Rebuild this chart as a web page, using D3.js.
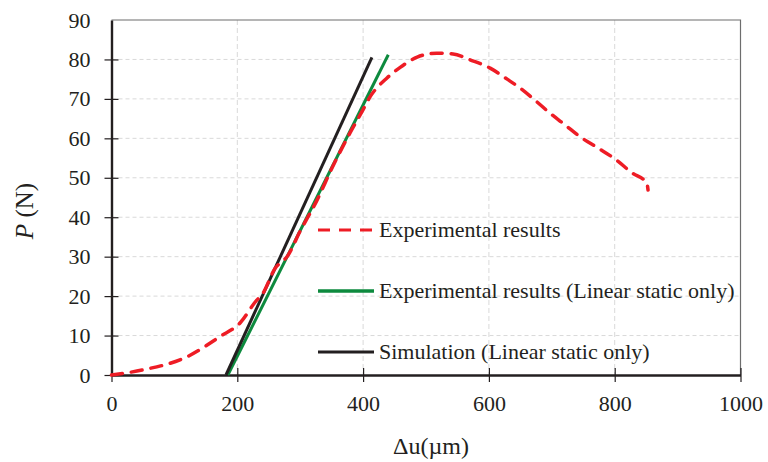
<!DOCTYPE html>
<html><head><meta charset="utf-8">
<script src="https://cdn.jsdelivr.net/npm/d3@7"></script>
<style>body{margin:0;background:#fff}svg{display:block}svg text{font-family:'Liberation Serif';fill:#231f20}</style>
</head><body><svg id="c" width="768" height="462"></svg>
<script>
const xTicks=[0,200,400,600,800,1000];
const yTicks=[0,10,20,30,40,50,60,70,80,90];
const expX=[0,50,120,172,205,231,239,260,280,300,327,350,379,398,411,438,459,486,517,543,570,602,629,650,673,697,721,745,774,801,828,851,853];
const expY=[0,1.3,4.6,9.7,13.3,19,20.3,27,30.2,36.5,44.4,52.3,61.3,66.7,70.5,75.3,78,80.6,81.6,81.4,79.9,77.8,75,72.7,69.7,66.4,63.4,60.4,57.5,54.7,51.2,48.7,46.9];
const linExpX=[185,440];
const linExpY=[0,81.2];
const simX=[182,414];
const simY=[0,80.5];
const seriesNames=["Experimental results","Experimental results (Linear static only)","Simulation (Linear static only)"];
const colors=["#ee1c25","#0d8a3e","#231f20"];

const svg=d3.select("#c");
const L=111.5,R=740.5,T=20,B=375;
const x=d3.scaleLinear().domain([0,1000]).range([L,R]);
const y=d3.scaleLinear().domain([0,90]).range([B,T]);

// grid
svg.append("g").selectAll("line").data(yTicks.filter(d=>d>0&&d<90)).join("line")
 .attr("x1",L).attr("x2",R).attr("y1",d=>y(d)).attr("y2",d=>y(d))
 .attr("stroke","#d9d9d9").attr("stroke-width",1).attr("stroke-dasharray","4,3");
svg.append("g").selectAll("line").data(xTicks.filter(d=>d>0&&d<1000)).join("line")
 .attr("y1",T).attr("y2",B).attr("x1",d=>x(d)).attr("x2",d=>x(d))
 .attr("stroke","#d9d9d9").attr("stroke-width",1).attr("stroke-dasharray","5,3");
// top/right border
svg.append("path").attr("d",`M${L},${T}H${R}V${B}`).attr("fill","none").attr("stroke","#6d6d6d").attr("stroke-width",1.2);

// axes
const xa=svg.append("g").attr("transform",`translate(0,${B})`)
 .call(d3.axisBottom(x).tickValues(xTicks).tickFormat(d3.format("d")).tickSize(7).tickSizeOuter(0).tickPadding(13));
xa.attr("font-family",null);
xa.select(".domain").attr("stroke","#231f20").attr("stroke-width",2.4);
xa.selectAll(".tick line").attr("y1",-7).attr("stroke","#231f20").attr("stroke-width",1.2);
xa.selectAll("text").attr("font-size",22);
const ya=svg.append("g").attr("transform",`translate(${L},0)`)
 .call(d3.axisLeft(y).tickValues(yTicks).tickSize(7).tickSizeOuter(0).tickPadding(14));
ya.attr("font-family",null);
ya.select(".domain").attr("stroke","#231f20").attr("stroke-width",2.4);
ya.selectAll(".tick line").attr("x1",7).attr("stroke","#231f20").attr("stroke-width",1.2);
ya.selectAll("text").attr("font-size",22);
ya.selectAll(".tick").filter(d=>d===90).select("line").remove();

const line=d3.line().x(d=>x(d[0])).y(d=>y(d[1]));
svg.append("path").datum(linExpX.map((v,i)=>[v,linExpY[i]])).attr("d",line)
 .attr("fill","none").attr("stroke",colors[1]).attr("stroke-width",3);
svg.append("path").datum(simX.map((v,i)=>[v,simY[i]])).attr("d",line)
 .attr("fill","none").attr("stroke",colors[2]).attr("stroke-width",3);
svg.append("path").datum(expX.map((v,i)=>[v,expY[i]])).attr("d",line.curve(d3.curveMonotoneX))
 .attr("fill","none").attr("stroke",colors[0]).attr("stroke-width",3.5)
 .attr("stroke-dasharray","11,9").attr("stroke-linecap","round");

// legend
const legY=[230,291,352];
const lg=svg.append("g");
seriesNames.forEach((n,i)=>{
  lg.append("line").attr("x1",318).attr("x2",374).attr("y1",legY[i]).attr("y2",legY[i])
   .attr("stroke",colors[i]).attr("stroke-width",i===1?3.5:3)
   .attr("stroke-dasharray",i===0?"12,9":null);
  lg.append("text").attr("x",379).attr("y",legY[i]+7).attr("font-size",22).text(n);
});

// axis titles
svg.append("text").attr("x",431).attr("y",454).attr("text-anchor","middle").attr("font-size",24).text("Δu(µm)");
const yt=svg.append("text").attr("transform","translate(33,211) rotate(-90)").attr("text-anchor","middle").attr("font-size",25);
yt.append("tspan").attr("font-style","italic").text("P");
yt.append("tspan").text(" (N)");
</script></body></html>
